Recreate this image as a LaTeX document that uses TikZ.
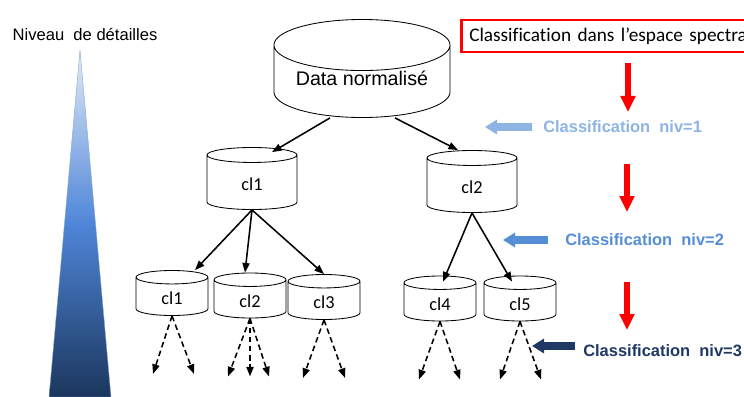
\documentclass[tikz,border=0pt]{standalone}
\usepackage{fontspec}
\setmainfont{Liberation Sans}
\newfontfamily\carlito[Ligatures=NoCommon]{Carlito}
\usepackage{xcolor}
\usetikzlibrary{
    arrows.meta,
    positioning,
    shapes.geometric,
    calc
}

\definecolor{nivlight}{HTML}{8DB4E2}
\definecolor{nivmid}{HTML}{558ED5}
\definecolor{nivdark}{HTML}{1F3864}
\definecolor{pyrtop}{HTML}{E2EBF8}
\definecolor{pyrmid}{HTML}{4F86D8}
\definecolor{pyrbot}{HTML}{1B365D}

\begin{document}
\begin{tikzpicture}[
        x=0.025cm, y=-0.025cm,
        tank/.style={
            cylinder,
            shape border rotate=90,
            anchor=shape center,
            draw,
            fill=white,
            line width=0.6pt,
            font=\carlito\fontsize{13}{15}\selectfont
        },
        bigtank/.style={
            tank,
            aspect=0.36,
            minimum width=4.4cm,
            minimum height=2.45cm,
            font=\fontsize{14}{16}\selectfont
        },
        midtank/.style={
            tank,
            aspect=0.49,
            minimum width=2.25cm,
            minimum height=1.55cm
        },
        smalltank/.style={
            tank,
            aspect=0.44,
            minimum width=1.8cm,
            minimum height=1.125cm
        },
        line/.style={
            -{Triangle[length=2.4mm,width=1.8mm]},
            line width=1.1pt
        },
        dashline/.style={
            line,
            dash pattern=on 4pt off 2.5pt
        },
        redarrow/.style={
            -{Triangle[length=4mm,width=3.6mm]},
            line width=4pt,
            draw=red
        },
        nivarrow/.style={
            -{Triangle[length=3mm,width=3.5mm]},
            line width=5pt
        },
        nivlabel/.style={
            font=\bfseries\fontsize{11.7}{14}\selectfont,
            anchor=west,
            inner sep=0pt
        }
    ]

    \useasboundingbox (0,0) rectangle (744,396);
    \clip (0,0) rectangle (744,396);

    % level of detail
    \node[font=\fontsize{11.8}{14}\selectfont] (niveau) at (85,34) {Niveau~ de détailles};
    \shade[top color=pyrtop, bottom color=pyrbot, middle color=pyrmid, draw=nivlight!80!gray, line width=0.3pt]
        (80,50) -- (111,397) -- (49,397) -- cycle;

    % tree
    \node[bigtank] (data) at (362,68.5) {\raisebox{0.175cm}[\height][\depth]{Data normalisé}};

    \node[midtank] (cla) at (252,178.5) {cl1};
    \node[midtank] (clb) at (472,181.5) {cl2};

    \node[smalltank] (cl1) at (172,293) {cl1};
    \node[smalltank] (cl2) at (250,295.5) {cl2};
    \node[smalltank] (cl3) at (324,297) {cl3};
    \node[smalltank] (cl4) at (440,298.5) {cl4};
    \node[smalltank] (cl5) at (520,298.5) {cl5};

    \draw[line] ([xshift=-0.8cm]data.bottom) -- ([shift={(0.5cm,-0.125cm)}]cla.top);
    \draw[line] ([xshift=0.825cm]data.bottom) -- ([xshift=-0.35cm]clb.top);

    \draw[line] (cla.bottom) -- ([xshift=0.575cm]cl1.top);
    \draw[line] (cla.bottom) -- ([xshift=-0.125cm]cl2.top);
    \draw[line] (cla.bottom) -- (cl3.top);
    \draw[line] (clb.bottom) -- ([shift={(0.075cm,-0.15cm)}]cl4.top);
    \draw[line] (clb.bottom) -- ([shift={(-0.2cm,-0.15cm)}]cl5.top);

    \foreach \n/\dx/\k in {cl1/-19/a, cl1/22/b, cl2/-22/a, cl2/0/b, cl2/19/c,
                           cl3/-21/a, cl3/21/b, cl4/-21/a, cl4/20/b, cl5/-20/a, cl5/21/b}
        \draw[dashline] (\n.bottom) -- ++(\dx,58) coordinate (\n\k);

    % right column
    \node[draw=red, line width=1.8pt, anchor=west, text width=10cm, align=left,
          inner xsep=0.2cm, minimum height=0.8cm,
          font=\carlito\fontsize{13.7}{16}\selectfont] (spectral) at (460,36)
          {Classification dans l’espace spectra};

    \coordinate (r1a) at (628,63);
    \coordinate (r1b) at (628,112);
    \coordinate (r2a) at (627,164);
    \coordinate (r2b) at (627,212);
    \coordinate (r3a) at (627,282);
    \coordinate (r3b) at (627,330);
    \draw[redarrow] (r1a) -- (r1b);
    \draw[redarrow] (r2a) -- (r2b);
    \draw[redarrow] (r3a) -- (r3b);

    \node[nivlabel, text=nivlight] (niv1) at (543,127) {Classification~ niv=1};
    \node[nivlabel, text=nivmid] (niv2) at (565,240) {Classification~ niv=2};
    \node[nivlabel, text=nivdark] (niv3) at (583,351) {Classification~ niv=3};

    \draw[nivarrow, nivlight] ([xshift=-0.275cm]niv1.west) -- ++(-47,0) coordinate (t1);
    \draw[nivarrow, nivmid] ([xshift=-0.425cm]niv2.west) -- ++(-45,0) coordinate (t2);
    \draw[nivarrow, nivdark] ([shift={(-0.2cm,0.125cm)}]niv3.west) -- ++(-43,0) coordinate (t3);

\end{tikzpicture}
\end{document}
